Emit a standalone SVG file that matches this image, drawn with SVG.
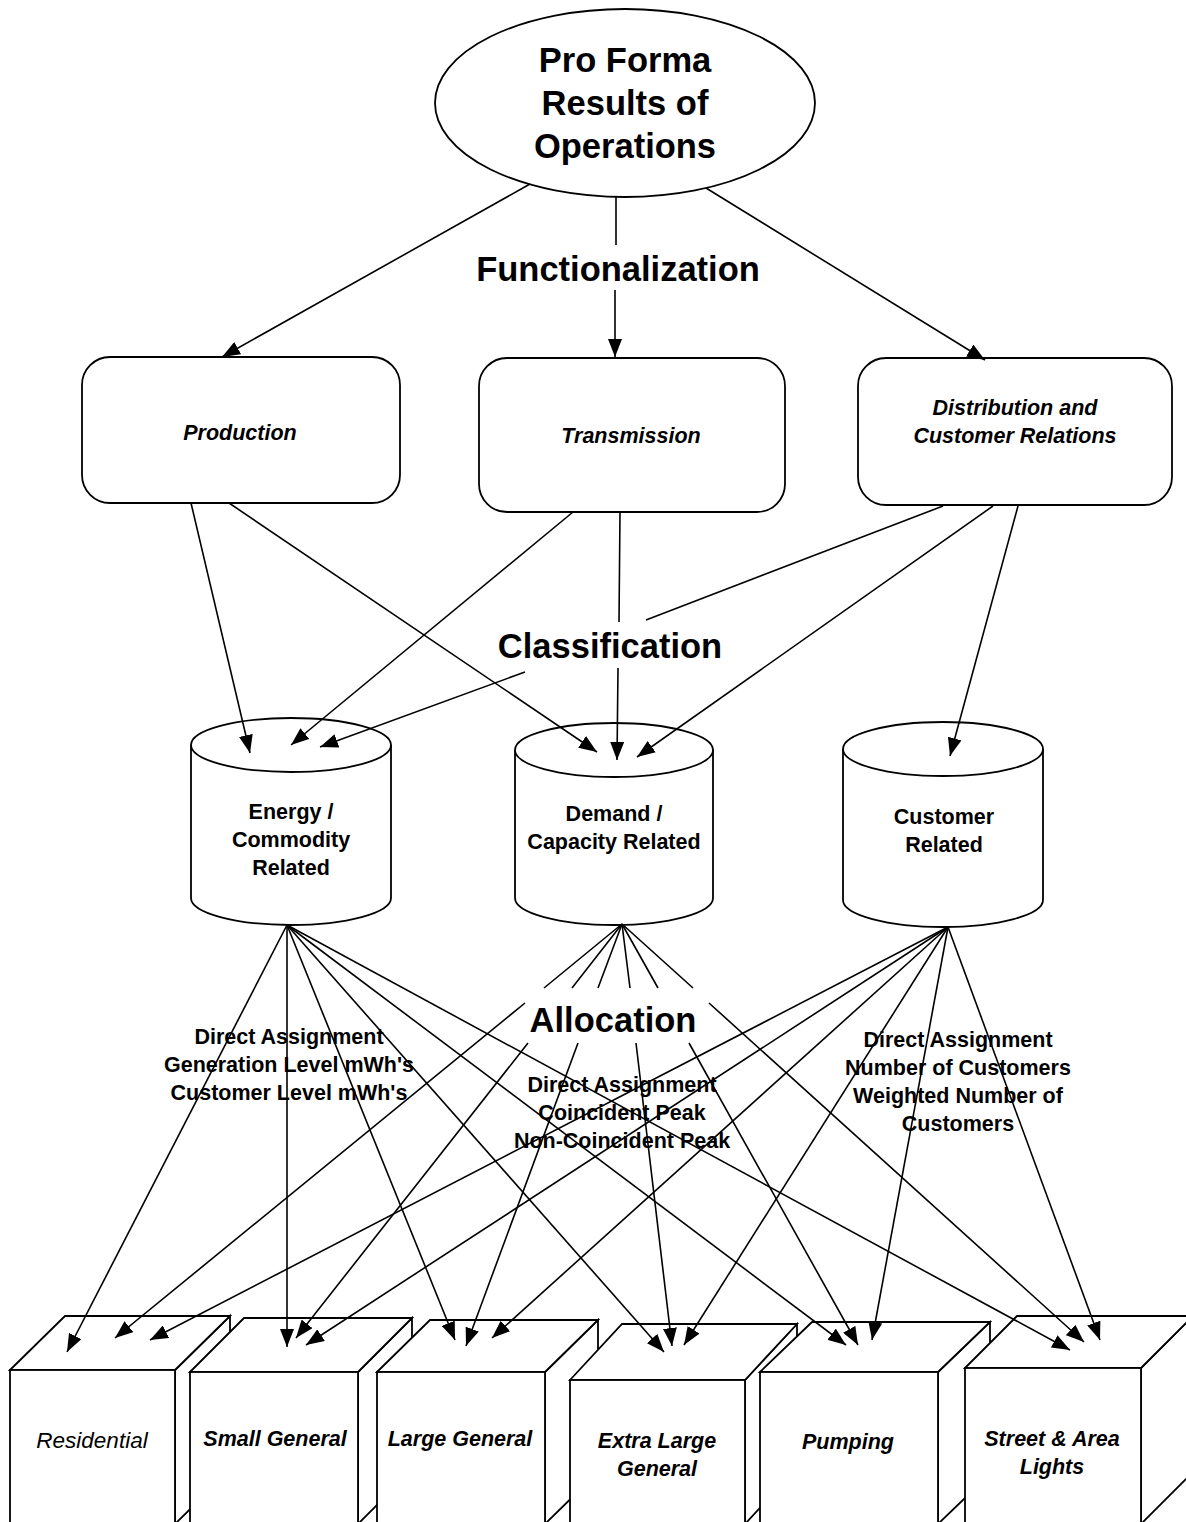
<svg xmlns="http://www.w3.org/2000/svg" width="1186" height="1522" viewBox="0 0 1186 1522">
<style>
.shape{fill:#fff;stroke:#000;stroke-width:1.8}
.conn{fill:none;stroke:#000;stroke-width:1.6;marker-end:url(#ah)}
.plain{fill:none;stroke:#000;stroke-width:1.6}
text{font-family:"Liberation Sans",Arial,Helvetica,sans-serif;fill:#000;text-anchor:middle}
.big{font-size:34.5px;font-weight:bold}
.lbl{font-size:21.5px;font-weight:bold}
.it{font-size:21.5px;font-weight:bold;font-style:italic}
.itr{font-size:22.5px;font-style:italic}
</style>
<defs>
<marker id="ah" markerWidth="18" markerHeight="14" refX="18" refY="7" orient="auto" markerUnits="userSpaceOnUse">
<path d="M0,0 L18,7 L0,14 z" fill="#000"/>
</marker>
</defs>
<rect width="1186" height="1522" fill="#fff"/>

<g id="pro-forma">
<ellipse class="shape" cx="625" cy="103" rx="190" ry="94"/>
<text class="big" x="625" y="72">Pro Forma</text>
<text class="big" x="625" y="115">Results of</text>
<text class="big" x="625" y="158">Operations</text>
</g>

<g id="production">
<rect class="shape" x="82" y="357" width="318" height="146" rx="28"/>
<text class="it" x="240" y="440">Production</text>
</g>
<g id="transmission">
<rect class="shape" x="479" y="358" width="306" height="154" rx="28"/>
<text class="it" x="631" y="443">Transmission</text>
</g>
<g id="distribution">
<rect class="shape" x="858" y="358" width="314" height="147" rx="28"/>
<text class="it" x="1015" y="415">Distribution and</text>
<text class="it" x="1015" y="443">Customer Relations</text>
</g>

<g id="energy">
<path class="shape" d="M191,745 L191,898 A100,27 0 0 0 391,898 L391,745"/>
<ellipse class="shape" cx="291" cy="745" rx="100" ry="27"/>
<text class="lbl" x="291" y="819">Energy /</text>
<text class="lbl" x="291" y="847">Commodity</text>
<text class="lbl" x="291" y="875">Related</text>
</g>
<g id="demand">
<path class="shape" d="M515,750 L515,898 A99,27 0 0 0 713,898 L713,750"/>
<ellipse class="shape" cx="614" cy="750" rx="99" ry="27"/>
<text class="lbl" x="614" y="821">Demand /</text>
<text class="lbl" x="614" y="849">Capacity Related</text>
</g>
<g id="customer">
<path class="shape" d="M843,749 L843,900 A100,27 0 0 0 1043,900 L1043,749"/>
<ellipse class="shape" cx="943" cy="749" rx="100" ry="27"/>
<text class="lbl" x="944" y="824">Customer</text>
<text class="lbl" x="944" y="852">Related</text>
</g>

<g id="residential">
<polygon class="shape" points="175,1370 230,1316 230,1470 175,1524"/>
<polygon class="shape" points="10,1370 65,1316 230,1316 175,1370"/>
<rect class="shape" x="10" y="1370" width="165" height="154"/>
<text class="itr" x="92" y="1448">Residential</text>
</g>
<g id="small-general">
<polygon class="shape" points="358,1372 412,1318 412,1470 358,1524"/>
<polygon class="shape" points="190,1372 244,1318 412,1318 358,1372"/>
<rect class="shape" x="190" y="1372" width="168" height="152"/>
<text class="it" x="275" y="1446">Small General</text>
</g>
<g id="large-general">
<polygon class="shape" points="545,1372 598,1320 598,1472 545,1524"/>
<polygon class="shape" points="377,1372 430,1320 598,1320 545,1372"/>
<rect class="shape" x="377" y="1372" width="168" height="152"/>
<text class="it" x="460" y="1446">Large General</text>
</g>
<g id="extra-large-general">
<polygon class="shape" points="745,1380 797,1324 797,1468 745,1524"/>
<polygon class="shape" points="570,1380 622,1324 797,1324 745,1380"/>
<rect class="shape" x="570" y="1380" width="175" height="144"/>
<text class="it" x="657" y="1448">Extra Large</text>
<text class="it" x="657" y="1476">General</text>
</g>
<g id="pumping">
<polygon class="shape" points="938,1372 990,1322 990,1474 938,1524"/>
<polygon class="shape" points="760,1372 812,1322 990,1322 938,1372"/>
<rect class="shape" x="760" y="1372" width="178" height="152"/>
<text class="it" x="848" y="1449">Pumping</text>
</g>
<g id="street-area-lights">
<polygon class="shape" points="1141,1368 1193,1316 1193,1472 1141,1524"/>
<polygon class="shape" points="965,1368 1017,1316 1193,1316 1141,1368"/>
<rect class="shape" x="965" y="1368" width="176" height="156"/>
<text class="it" x="1052" y="1446">Street &amp; Area</text>
<text class="it" x="1052" y="1474">Lights</text>
</g>

<g id="connectors">
<path class="conn" d="M530,184 L222,357"/>
<path class="conn" d="M616,197 L616,245 M615,290 L615,357"/>
<path class="conn" d="M706,188 L985,360"/>

<path class="conn" d="M191,503 L250,753"/>
<path class="conn" d="M229,503 L597,752"/>
<path class="conn" d="M573,512 L291,745"/>
<path class="conn" d="M620,512 L619,622 M618,668 L617,760"/>
<path class="conn" d="M943,506 L646,620 M525,672 L320,747"/>
<path class="conn" d="M993,506 L637,757"/>
<path class="conn" d="M1018,506 L950,756"/>

<path class="conn" d="M287,925 L67,1352"/>
<path class="conn" d="M287,925 L287,1347"/>
<path class="conn" d="M287,925 L455,1340"/>
<path class="conn" d="M287,925 L664,1352"/>
<path class="conn" d="M287,925 L846,1345"/>
<path class="conn" d="M287,925 L1070,1350"/>

<path class="conn" d="M622,924 L544,988 M525,1003 L115,1338"/>
<path class="conn" d="M622,924 L572,988 M528,1043 L296,1338"/>
<path class="conn" d="M622,924 L598,988 M578,1043 L466,1346"/>
<path class="conn" d="M622,924 L630,988 M636,1043 L672,1346"/>
<path class="conn" d="M622,924 L658,988 M689,1043 L858,1345"/>
<path class="conn" d="M622,924 L693,988 M709,1003 L1084,1342"/>

<path class="conn" d="M948,927 L150,1340"/>
<path class="conn" d="M948,927 L306,1345"/>
<path class="conn" d="M948,927 L492,1338"/>
<path class="conn" d="M948,927 L684,1345"/>
<path class="conn" d="M948,927 L872,1340"/>
<path class="conn" d="M948,927 L1100,1340"/>
</g>

<g id="labels">
<text class="big" x="618" y="281">Functionalization</text>
<text class="big" x="610" y="658">Classification</text>
<text class="big" x="613" y="1032">Allocation</text>
<text class="lbl" x="289" y="1044">Direct Assignment</text>
<text class="lbl" x="289" y="1072">Generation Level mWh's</text>
<text class="lbl" x="289" y="1100">Customer Level mWh's</text>
<text class="lbl" x="622" y="1092">Direct Assignment</text>
<text class="lbl" x="622" y="1120">Coincident Peak</text>
<text class="lbl" x="622" y="1148">Non-Coincident Peak</text>
<text class="lbl" x="958" y="1047">Direct Assignment</text>
<text class="lbl" x="958" y="1075">Number of Customers</text>
<text class="lbl" x="958" y="1103">Weighted Number of</text>
<text class="lbl" x="958" y="1131">Customers</text>
</g>
</svg>
